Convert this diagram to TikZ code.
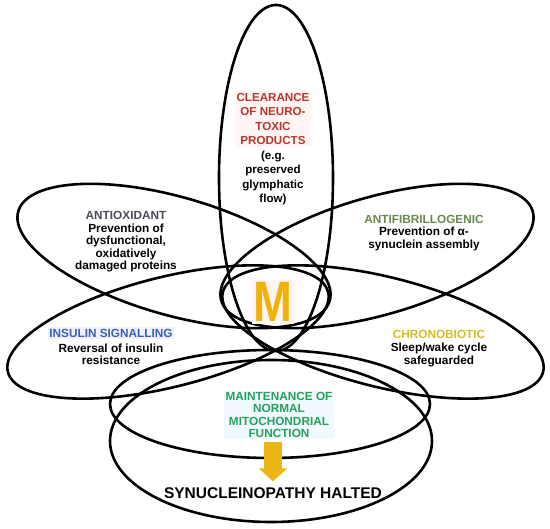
\documentclass[tikz,border=0pt]{standalone}
\usepackage{fontspec}
\setmainfont{Liberation Sans}
\usetikzlibrary{positioning,arrows.meta}

\definecolor{clrred}{RGB}{185,55,45}
\definecolor{aoxgray}{RGB}{75,75,92}
\definecolor{afbgreen}{RGB}{105,138,78}
\definecolor{insblue}{RGB}{58,98,180}
\definecolor{chryellow}{RGB}{212,190,40}
\definecolor{mntgreen}{RGB}{38,160,92}
\definecolor{mgold}{RGB}{240,178,10}
\definecolor{arrgold}{RGB}{236,182,22}

\begin{document}
\begin{tikzpicture}[x=1pt, y=1pt,
  every node/.style={font=\bfseries\fontsize{11.8}{12.3}\selectfont, align=center, inner sep=1pt},
  petal/.style ={draw, line width=2.6pt},
  hd/.style    ={inner sep=1.5pt},
  txt/.style   ={text=black},
  halt/.style  ={font=\bfseries\fontsize{15.5}{16}\selectfont},
  mnode/.style ={font=\bfseries\fontsize{57}{57}\selectfont, text=mgold, fill=pink!18, inner sep=2pt},
  bigarrow/.style={-{Triangle[length=13pt, width=28pt]}, line width=18pt, arrgold},
]
\useasboundingbox (0,0) rectangle (550,-529);

\draw[petal] (276,-178) ellipse [x radius=57pt, y radius=173pt];
\draw[petal, rotate around={-16:(174,-256)}] (174,-256) ellipse [x radius=162pt, y radius=59pt];
\draw[petal, rotate around={16:(377,-256)}] (377,-256) ellipse [x radius=162pt, y radius=59pt];
\draw[petal, rotate around={14:(168,-332)}] (168,-332) ellipse [x radius=165pt, y radius=55pt];
\draw[petal, rotate around={-14:(383,-332)}] (383,-332) ellipse [x radius=165pt, y radius=55pt];
\draw[petal] (270,-404) ellipse [x radius=160pt, y radius=54pt];
\draw[petal] (271,-441) ellipse [x radius=161pt, y radius=81pt];

\node[mnode] (m) at (273,-302) {\scalebox{0.82}[1]{M}};

\node[hd, text=clrred, fill=pink!15, font=\bfseries\fontsize{11.6}{14.6}\selectfont] (clrhd) at (273,-119) {CLEARANCE\\OF NEURO-\\TOXIC\\PRODUCTS};
\node[txt, font=\bfseries\fontsize{11.6}{14.6}\selectfont] (clrtx) at (273,-178) {(e.g.\\preserved\\glymphatic\\flow)};

\node[hd, text=aoxgray] (aoxhd) at (126,-215) {ANTIOXIDANT};
\node[txt] (aoxtx) at (126,-248) {Prevention of\\dysfunctional,\\oxidatively\\damaged proteins};

\node[hd, text=afbgreen] (afbhd) at (424,-219) {ANTIFIBRILLOGENIC};
\node[txt] (afbtx) at (424,-239) {Prevention of α-\\synuclein assembly};

\node[hd, text=insblue, fill=blue!6] (inshd) at (111,-333) {INSULIN SIGNALLING};
\node[txt] (instx) at (111,-354) {Reversal of insulin\\resistance};

\node[hd, text=chryellow] (chrhd) at (439,-334) {CHRONOBIOTIC};
\node[txt] (chrtx) at (439,-355) {Sleep/wake cycle\\safeguarded};

\node[hd, text=mntgreen, fill=cyan!6] (mnt) at (279,-415) {MAINTENANCE OF\\NORMAL\\MITOCHONDRIAL\\FUNCTION};

\node[halt] (stop) at (273,-493) {SYNUCLEINOPATHY HALTED};

\draw[bigarrow] ([yshift=-3pt]mnt.south -| stop.north) -- ([yshift=5pt]stop.north);

\end{tikzpicture}
\end{document}
